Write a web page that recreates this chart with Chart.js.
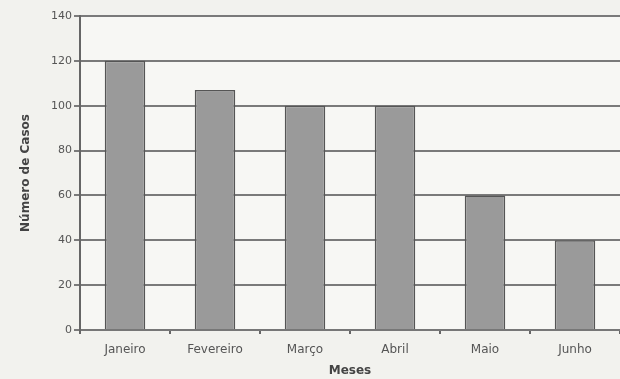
<!DOCTYPE html>
<html>
<head>
<meta charset="utf-8">
<script src="https://cdn.jsdelivr.net/npm/chart.js@4"></script>
<style>
  html, body { margin: 0; padding: 0; background: #f2f2ee; }
  #wrap { width: 620px; height: 379px; }
</style>
</head>
<body>
<div id="wrap"><canvas id="myChart" width="620" height="379"></canvas></div>
<script>
const meses = ['Janeiro', 'Fevereiro', 'Março', 'Abril', 'Maio', 'Junho'];
const casos = [120, 107, 100, 100, 60, 40];
const yTicks = [0, 20, 40, 60, 80, 100, 120, 140];

// paints the page grey and the plot area a touch lighter
const fundo = {
    id: 'fundo',
    beforeDraw(chart) {
        const c = chart.ctx;
        const a = chart.chartArea;
        c.save();
        c.fillStyle = '#f2f2ee';
        c.fillRect(0, 0, chart.width, chart.height);
        c.fillStyle = '#f7f7f4';
        c.fillRect(a.left, a.top, a.right - a.left, a.bottom - a.top);
        c.restore();
    }
};

const ctx = document.getElementById('myChart');

new Chart(ctx, {
    type: 'bar',
    data: {
        labels: meses,
        datasets: [{
            label: 'Número de Casos',
            data: casos,
            backgroundColor: '#9a9a9a',
            borderColor: '#555555',
            borderWidth: 1.5,
            barPercentage: 0.45,
            categoryPercentage: 1
        }]
    },
    plugins: [fundo],
    options: {
        responsive: false,
        animation: false,
        layout: { padding: { top: 16, right: 0, left: 0, bottom: 0 } },
        plugins: {
            legend: { display: false },
            tooltip: { enabled: false }
        },
        scales: {
            x: {
                afterFit(scale) { scale.height = 49; },
                grid: {
                    drawOnChartArea: false,
                    drawTicks: true,
                    tickLength: 4,
                    color: '#666666',
                    lineWidth: 2
                },
                border: { color: '#777777', width: 2 },
                ticks: {
                    color: '#555555',
                    font: { family: 'DejaVu Sans', size: 12 },
                    padding: 9
                },
                title: {
                    display: true,
                    text: 'Meses',
                    color: '#444444',
                    font: { family: 'DejaVu Sans', size: 12, weight: 'bold' },
                    padding: { top: 2, bottom: 1 }
                }
            },
            y: {
                min: 0,
                max: 140,
                afterFit(scale) { scale.width = 80; },
                afterBuildTicks(scale) {
                    scale.ticks = yTicks.map(v => ({ value: v }));
                },
                grid: {
                    color: '#7a7a7a',
                    lineWidth: 2,
                    tickLength: 6
                },
                border: { color: '#666666', width: 2 },
                ticks: {
                    color: '#555555',
                    font: { family: 'DejaVu Sans', size: 11 },
                    padding: 2
                },
                title: {
                    display: true,
                    text: 'Número de Casos',
                    color: '#444444',
                    font: { family: 'DejaVu Sans', size: 12, weight: 'bold' },
                    padding: { top: 19, bottom: 0 }
                }
            }
        }
    }
});
</script>
</body>
</html>
